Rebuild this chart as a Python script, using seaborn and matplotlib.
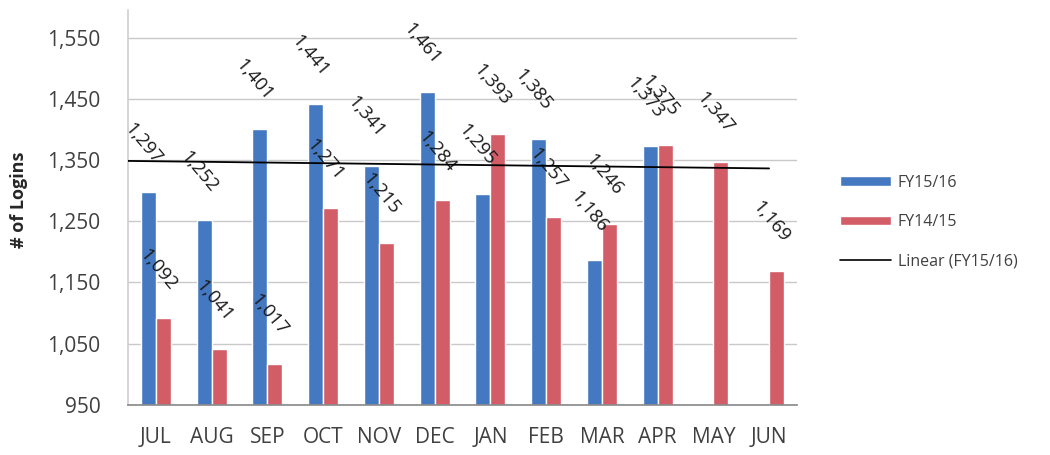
"""Monthly logins by fiscal year, grouped bars with a linear trend."""

import matplotlib
matplotlib.use("Agg")
import matplotlib.pyplot as plt
import numpy as np
import pandas as pd
import seaborn as sns
from matplotlib.lines import Line2D
from matplotlib.patches import Patch
from matplotlib.ticker import FuncFormatter

MONTHS = ["JUL", "AUG", "SEP", "OCT", "NOV", "DEC",
          "JAN", "FEB", "MAR", "APR", "MAY", "JUN"]
FY1516 = [1297, 1252, 1401, 1441, 1341, 1461,
          1295, 1385, 1186, 1373, np.nan, np.nan]
FY1415 = [1092, 1041, 1017, 1271, 1215, 1284,
          1393, 1257, 1246, 1375, 1347, 1169]
SERIES = ["FY15/16", "FY14/15"]
COLORS = ["#4479c2", "#d35d67"]
TREND_LABEL = "Linear (FY15/16)"

df = pd.DataFrame({
    "month": MONTHS * 2,
    "series": [SERIES[0]] * len(MONTHS) + [SERIES[1]] * len(MONTHS),
    "logins": FY1516 + FY1415,
})

sns.set_theme(style="white")
plt.rcParams["font.family"] = ["Open Sans", "DejaVu Sans"]

fig = plt.figure(figsize=(10.5, 4.55), dpi=100)
ax = fig.add_axes([0.122, 0.11, 0.637, 0.868])

sns.barplot(data=df, x="month", y="logins", hue="series", order=MONTHS,
            hue_order=SERIES, palette=COLORS, width=0.54, gap=0,
            saturation=1, errorbar=None, legend=False, ax=ax)

# value labels, rotated like the original
for container in ax.containers:
    for bar in container:
        h = bar.get_height()
        if np.isnan(h) or h == 0:
            continue
        x = bar.get_x() + bar.get_width() / 2
        ax.annotate(f"{h:,.0f}", (x, h), xytext=(-4, 35),
                    textcoords="offset points", rotation=-50,
                    ha="center", va="center", fontsize=13.5, color="#1a1a1a")

# linear trend of FY15/16
y = np.array(FY1516, dtype=float)
idx = np.arange(len(MONTHS))
ok = ~np.isnan(y)
coef = np.polyfit(idx[ok], y[ok], 1)
xs = np.array([-0.5, 11.0])
ax.plot(xs, np.polyval(coef, xs), color="black", lw=1.3, zorder=3)

ax.set_xlim(-0.5, 11.5)
ax.set_ylim(950, 1595)
ax.set_yticks(np.arange(950, 1551, 100))
ax.yaxis.set_major_formatter(FuncFormatter(lambda v, _: f"{v:,.0f}"))
ax.yaxis.grid(True, color="#c9c9c9", lw=1)
ax.set_axisbelow(True)

for side in ("top", "right"):
    ax.spines[side].set_visible(False)
ax.spines["left"].set_color("#d0d0d0")
ax.spines["bottom"].set_color("#8c8c8c")
ax.tick_params(axis="both", length=0, labelsize=15, colors="#404040")
ax.tick_params(axis="y", pad=20)
ax.tick_params(axis="x", pad=16)

ax.set_xlabel("")
ax.set_ylabel("# of Logins", fontsize=13, fontweight="bold", color="#262626")
ax.yaxis.set_label_coords(-0.15, 0.52)

handles = [
    Patch(facecolor=COLORS[0], label=SERIES[0]),
    Patch(facecolor=COLORS[1], label=SERIES[1]),
    Line2D([0], [0], color="black", lw=1.2, label=TREND_LABEL),
]
leg = fig.legend(handles=handles, loc="center left",
                 bbox_to_anchor=(0.794, 0.512), frameon=False, fontsize=11.5,
                 handlelength=3.2, handleheight=0.55, labelspacing=1.45,
                 handletextpad=0.4, borderaxespad=0)
for t in leg.get_texts():
    t.set_color("#404040")

fig.savefig("out.png", dpi=100)
plt.close(fig)
